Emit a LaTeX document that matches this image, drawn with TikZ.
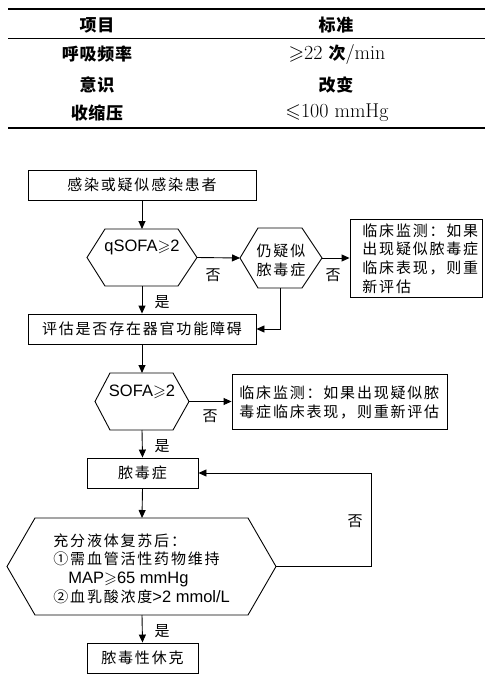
\documentclass[tikz,border=0pt]{standalone}
\usepackage{fontspec}
\usepackage{amssymb}
\usetikzlibrary{arrows.meta}
\setsansfont{Liberation Sans}
\newfontfamily\cjk[LetterSpace=12]{Noto Sans CJK SC}
\newfontfamily\cjkt[LetterSpace=4]{Noto Sans CJK SC}
\newcommand\zhf{\fontsize{15}{18.7}\selectfont\cjk}
\newcommand\tbf{\fontsize{17}{20}\selectfont\cjkt\bfseries}
\newcommand\tlat{\fontsize{20}{22}\selectfont\rmfamily}
\newcommand\lat[1]{{\fontsize{16.5}{18.7}\selectfont\sffamily #1}}
\begin{document}
\begin{tikzpicture}[x=1pt,y=-1pt,line width=0.9pt,
  arr/.style={-{Triangle[length=8pt,width=7pt]}},
  box/.style={draw,minimum height=30pt,inner sep=0pt,font=\zhf},
  txt/.style={inner sep=0pt,font=\zhf},
  lbl/.style={inner sep=0pt,font=\zhf},
  th/.style={inner sep=0pt,font=\tbf},
  tl/.style={inner sep=0pt,font=\tlat}]
\useasboundingbox (0,0) rectangle (494,680);

% ---------- table ----------
\coordinate (r1a) at (8,9);   \coordinate (r1b) at (485,9);
\coordinate (r2a) at (8,38);  \coordinate (r2b) at (485,38);
\coordinate (r3a) at (8,128); \coordinate (r3b) at (485,128);
\draw[line width=1.3pt] (r1a) -- (r1b);
\draw[line width=0.8pt] (r2a) -- (r2b);
\draw[line width=1.3pt] (r3a) -- (r3b);
\node[th] (t11) at (97,25) {项目};
\node[th] (t12) at (336,25) {标准};
\node[th] (t21) at (97,54) {呼吸频率};
\node[tl] (t22) at (337,54) {$\geqslant$22 {\tbf 次}/min};
\node[th] (t31) at (97,85) {意识};
\node[th] (t32) at (336,85) {改变};
\node[th] (t41) at (97,113) {收缩压};
\node[tl] (t42) at (337,113) {$\leqslant$100 mmHg};

% ---------- flowchart ----------
\node[box,minimum width=228pt] (b1) at (142,185) {感染或疑似感染患者};

% hexagon 1: qSOFA
\coordinate (h1L) at (87,257.5); \coordinate (h1TL) at (105,229); \coordinate (h1TR) at (178,229);
\coordinate (h1R) at (197,257.5); \coordinate (h1BR) at (178,286); \coordinate (h1BL) at (105,286);
\coordinate (h1T) at (142,229); \coordinate (h1B) at (142,286);
\draw (h1L) -- (h1TL) -- (h1TR) -- (h1R) -- (h1BR) -- (h1BL) -- cycle;
\node[txt] (h1t) at (142,247) {\lat{qSOFA$\geqslant$2}};

% hexagon 2
\coordinate (h2L) at (240,258); \coordinate (h2TL) at (258,228); \coordinate (h2TR) at (302,228);
\coordinate (h2R) at (322,258); \coordinate (h2BR) at (302,288); \coordinate (h2BL) at (258,288);
\coordinate (h2B) at (280,288);
\draw (h2L) -- (h2TL) -- (h2TR) -- (h2R) -- (h2BR) -- (h2BL) -- cycle;
\node[txt,align=center] (h2t) at (281,260) {仍疑似\\脓毒症};

\node[draw,inner sep=0pt,minimum width=132pt,minimum height=78pt] (b3) at (416,258) {};
\node[txt,align=left,anchor=west] (b3t) at (362,258.5) {临床监测：如果\\出现疑似脓毒症\\临床表现，则重\\新评估};

\node[box,minimum width=228pt] (b4) at (142,329) {评估是否存在器官功能障碍};

% hexagon 3: SOFA
\coordinate (h3L) at (95,401.5); \coordinate (h3TL) at (110,373); \coordinate (h3TR) at (173,373);
\coordinate (h3R) at (189,401.5); \coordinate (h3BR) at (173,430); \coordinate (h3BL) at (110,430);
\coordinate (h3T) at (142,373); \coordinate (h3B) at (142,430);
\draw (h3L) -- (h3TL) -- (h3TR) -- (h3R) -- (h3BR) -- (h3BL) -- cycle;
\node[txt] (h3t) at (142,392) {\lat{SOFA$\geqslant$2}};

\node[draw,inner sep=0pt,minimum width=215pt,minimum height=55pt] (b5) at (339.5,401.5) {};
\node[txt,align=left,anchor=west] (b5t) at (239,402.5) {临床监测：如果出现疑似脓\\毒症临床表现，则重新评估};

\node[box,minimum width=111pt] (b6) at (142.5,473) {脓毒症};

% hexagon 4
\coordinate (h4L) at (7,566.5); \coordinate (h4TL) at (35,518); \coordinate (h4TR) at (248,518);
\coordinate (h4R) at (276,566.5); \coordinate (h4BR) at (248,615); \coordinate (h4BL) at (35,615);
\coordinate (h4T) at (142,518); \coordinate (h4B) at (142,615);
\draw (h4L) -- (h4TL) -- (h4TR) -- (h4R) -- (h4BR) -- (h4BL) -- cycle;
\node[txt,align=left,anchor=west] (h4t) at (53,568.5)
 {充分液体复苏后：\\①需血管活性药物维持\\\phantom{①}\lat{MAP$\geqslant$65 mmHg}\\②血乳酸浓度\lat{>2 mmol/L}};

\node[box,minimum width=111pt] (b7) at (142.5,658) {脓毒性休克};

\coordinate (loopc) at (371,566.5);

% connectors
\draw[arr] (b1.south) -- (h1T);
\draw[arr] (h1R) -- (h2L);
\node[lbl] (n1) at (213,275) {否};
\draw[arr] (h2R) -- (b3.west);
\node[lbl] (n2) at (333,275) {否};
\draw[arr] (h1B) -- (b4.north);
\node[lbl] (y1) at (162,302) {是};
\draw[arr] (h2B) |- (b4.east);
\draw[arr] (b4.south) -- (h3T);
\draw[arr] (h3R) -- (b5.west);
\node[lbl] (n3) at (210,416) {否};
\draw[arr] (h3B) -- (b6.north);
\node[lbl] (y2) at (162,446) {是};
\draw[arr] (b6.south) -- (h4T);
\draw[arr] (h4R) -- (loopc) |- (b6.east);
\node[lbl] (n4) at (355,521) {否};
\draw[arr] (h4B) -- (b7.north);
\node[lbl] (y3) at (162,631) {是};
\end{tikzpicture}
\end{document}
